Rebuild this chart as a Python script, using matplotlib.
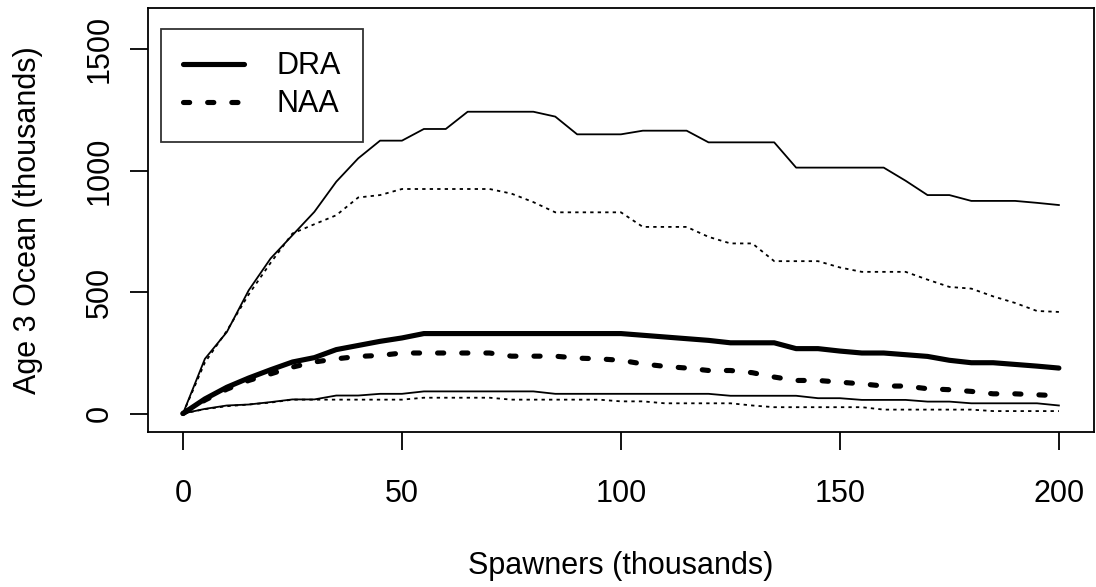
import matplotlib
matplotlib.use('Agg')
import matplotlib.pyplot as plt

plt.rcParams['font.family'] = ['Liberation Sans', 'DejaVu Sans']

# Spawners (thousands), one point every 5
spawners = list(range(0, 205, 5))

# median lines
dra_med = [0, 60, 108, 146, 180, 212, 230, 263, 280, 297, 311, 329, 329, 329, 329, 329,
           329, 329, 329, 329, 329, 322, 315, 308, 301, 291, 291, 291, 267, 267, 257,
           249, 249, 242, 235, 219, 209, 209, 202, 195, 187]
naa_med = [0, 55, 100, 136, 163, 191, 212, 225, 235, 239, 249, 249, 249, 249, 249, 236,
           236, 236, 228, 225, 219, 204, 194, 187, 177, 177, 168, 150, 136, 136, 129,
           122, 113, 113, 102, 98, 91, 81, 81, 77, 73]

# upper bounds
dra_hi = [0, 225, 335, 507, 638, 734, 830, 954, 1050, 1123, 1123, 1171, 1171, 1242, 1242,
          1242, 1242, 1222, 1149, 1149, 1149, 1164, 1164, 1164, 1116, 1116, 1116, 1116,
          1012, 1012, 1012, 1012, 1012, 958, 899, 899, 875, 875, 875, 867, 858]
naa_hi = [0, 210, 340, 490, 620, 741, 779, 816, 889, 899, 924, 924, 924, 924, 924, 905,
          870, 828, 828, 828, 828, 768, 768, 768, 727, 700, 700, 627, 627, 627, 601,
          583, 583, 583, 551, 521, 514, 482, 455, 422, 418]

# lower bounds
dra_lo = [0, 19, 33, 37, 47, 58, 58, 74, 74, 81, 81, 91, 91, 91, 91, 91, 91, 81, 81, 81,
          81, 81, 81, 81, 81, 73, 73, 73, 73, 63, 63, 56, 56, 56, 49, 49, 42, 42, 42, 42, 33]
naa_lo = [0, 18, 30, 37, 45, 57, 57, 57, 57, 57, 57, 65, 65, 65, 65, 57, 57, 57, 57, 57,
          50, 50, 42, 42, 42, 42, 33, 26, 26, 26, 26, 26, 16, 16, 16, 16, 16, 10, 10, 10, 10]

thin = 1.3
thick = 3.7
thin_dash = (0, (1.85, 2.3))
thick_dash = (0, (1.2, 3.5))

fig = plt.figure(figsize=(10.96, 5.87), dpi=100)
ax = fig.add_axes([0.1350, 0.2641, 0.8631, 0.7223])

ax.plot(spawners, dra_med, color='black', lw=thick, solid_joinstyle='round',
        solid_capstyle='round', label='DRA')
ax.plot(spawners, naa_med, color='black', lw=thick, linestyle=thick_dash,
        dash_capstyle='round', dash_joinstyle='round', label='NAA')
ax.plot(spawners, dra_hi, color='black', lw=thin, solid_joinstyle='round')
ax.plot(spawners, dra_lo, color='black', lw=thin, solid_joinstyle='round')
ax.plot(spawners, naa_hi, color='black', lw=thin, linestyle=thin_dash)
ax.plot(spawners, naa_lo, color='black', lw=thin, linestyle=thin_dash)

ax.set_xlim(-8, 208)
ax.set_ylim(-76, 1669)
ax.set_xticks([0, 50, 100, 150, 200])
ax.set_yticks([0, 500, 1000, 1500])

for s in ax.spines.values():
    s.set_linewidth(1.3)
    s.set_color('black')

ax.tick_params(axis='both', direction='out', length=13, width=1.3, labelsize=22)
ax.tick_params(axis='x', pad=21)
ax.tick_params(axis='y', pad=11, labelrotation=90)
for lbl in ax.get_yticklabels():
    lbl.set_va('center')

ax.set_xlabel('Spawners (thousands)', fontsize=22)
ax.xaxis.set_label_coords(0.5, -0.316)
ax.xaxis.label.set_va('center')
ax.set_ylabel('Age 3 Ocean (thousands)', fontsize=22)
ax.yaxis.set_label_coords(-0.127, 0.5)
ax.yaxis.label.set_va('center')

leg = ax.legend(loc='upper left', bbox_to_anchor=(0.0137, 0.9505), borderaxespad=0,
                fontsize=22, frameon=True, fancybox=False, edgecolor='black',
                handlelength=2.0, handletextpad=1.05, labelspacing=0.26,
                borderpad=0.73)
leg.get_frame().set_linewidth(1.3)

plt.savefig('out.png', dpi=100)
